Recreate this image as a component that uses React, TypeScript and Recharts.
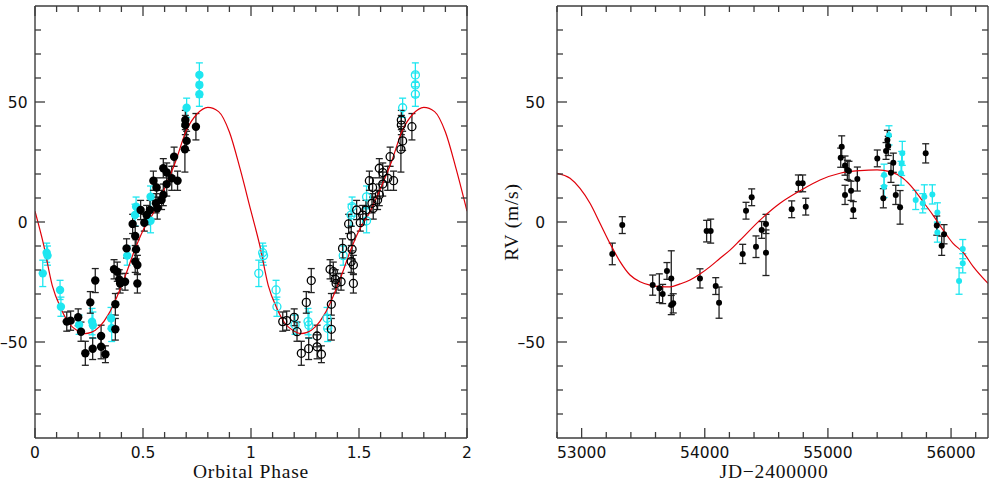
import React from 'react';
import { ComposedChart, Scatter, Line, XAxis, YAxis, ErrorBar } from 'recharts';

// [x, rv, error] triples
type Obs = [number, number, number];

// ---- phase-folded panel ----
const phaseTicks = [0, 0.1, 0.2, 0.3, 0.4, 0.5, 0.6, 0.7, 0.8, 0.9, 1, 1.1, 1.2, 1.3, 1.4, 1.5, 1.6, 1.7, 1.8, 1.9, 2];
const phaseMajor = [0, 0.5, 1, 1.5, 2];
const phaseLabels = ['0', '0.5', '1', '1.5', '2'];

const rvTicks = [-80, -70, -60, -50, -40, -30, -20, -10, 0, 10, 20, 30, 40, 50, 60, 70, 80];
const rvMajor = [-50, 0, 50];
const rvLabels = ['\u201350', '0', '50'];

const phaseBlack: Obs[] = [
  [0.147, -41.5, 4], [0.165, -41.1, 4], [0.2, -39.7, 3.5], [0.213, -45.7, 4],
  [0.233, -54.7, 5], [0.256, -33.5, 4.5], [0.267, -52.8, 4.5], [0.279, -24.4, 5],
  [0.306, -47.5, 4.5], [0.306, -52.0, 5], [0.326, -55.1, 3.5], [0.366, -19.7, 4],
  [0.372, -34.3, 4.5], [0.372, -44.7, 4.5], [0.381, -20.7, 4], [0.39, -23.9, 4],
  [0.394, -25.6, 4], [0.417, -24.9, 3.5], [0.424, -11.0, 4], [0.452, -0.8, 4],
  [0.464, -5.8, 4], [0.468, -11.4, 4], [0.464, -16.5, 4.5], [0.474, -17.9, 4],
  [0.474, -25.6, 4], [0.489, 5.0, 4], [0.506, -0.3, 3.5], [0.517, 2.9, 4],
  [0.532, 5.0, 4], [0.548, 17.2, 4], [0.56, 7.8, 4], [0.563, 14.4, 4],
  [0.566, 5.7, 4.5], [0.586, 9.2, 4], [0.594, 11.3, 4.5], [0.594, 22.4, 4],
  [0.61, 20.6, 4], [0.61, 15.8, 5], [0.633, 18.2, 5], [0.644, 27.2, 4],
  [0.66, 17.2, 4], [0.694, 30.3, 9.5], [0.702, 33.8, 4], [0.696, 40.4, 4],
  [0.696, 42.5, 4], [0.745, 39.7, 5.5],
];

const phaseCyan: Obs[] = [
  [0.036, -21.4, 5.5], [0.054, -12.8, 4], [0.058, -14.0, 4], [0.116, -28.3, 4],
  [0.12, -35.3, 4], [0.204, -42.8, 4], [0.264, -41.5, 5.5], [0.268, -43.0, 5.5],
  [0.352, -40.1, 4.5], [0.355, -44.3, 5.5], [0.427, -14.0, 4], [0.463, 2.9, 4.5],
  [0.468, 6.4, 4], [0.535, 0.5, 5], [0.535, 10.5, 4.5], [0.702, 47.6, 4],
  [0.761, 53.2, 5], [0.761, 57.1, 5], [0.761, 61.3, 5],
];

// Keplerian fit sampled over one cycle
const fitPhase = [0, 0.04, 0.08, 0.12, 0.16, 0.2, 0.23, 0.26, 0.3, 0.34, 0.38, 0.42, 0.46, 0.5, 0.55, 0.6, 0.65, 0.7, 0.75, 0.8, 0.85, 0.9, 0.95, 1];
const fitPhaseRv = [4.5, -9.5, -26.5, -36, -42.5, -45.5, -46.5, -46, -43.5, -38.5, -31, -22, -12, -3.5, 4.1, 14, 25, 38, 45, 47.8, 46, 37.5, 22, 4.5];

// ---- time series panel ----
const jdTicks = [52800, 53000, 53200, 53400, 53600, 53800, 54000, 54200, 54400, 54600, 54800, 55000, 55200, 55400, 55600, 55800, 56000, 56200];
const jdMajor = [53000, 54000, 55000, 56000];
const jdLabels = ['53000', '54000', '55000', '56000'];

const timeBlack: Obs[] = [
  [53249, -13.3, 4.5], [53330, -1.3, 3.5], [53577, -26.3, 4.2], [53631, -27.6, 6],
  [53658, -30.0, 4], [53693, -20.4, 3.5], [53728, -23.5, 11.5], [53728, -34.6, 4],
  [53744, -33.9, 4], [53961, -23.5, 4], [54015, -3.8, 4.5], [54048, -3.8, 5],
  [54089, -26.7, 3.5], [54116, -33.6, 6.5], [54308, -13.3, 4], [54335, 4.7, 3.5],
  [54381, 10.3, 3.5], [54416, -10.3, 4.5], [54462, -3.3, 3.5], [54497, -0.8, 4],
  [54497, -12.8, 9.5], [54706, 5.3, 3.5], [54760, 16.1, 3.5], [54795, 16.1, 3.5],
  [54820, 6.4, 3.5], [55104, 26.8, 4], [55112, 31.4, 4.5], [55139, 23.5, 4],
  [55139, 11.3, 4], [55158, 21.7, 4], [55171, 21.3, 4], [55188, 13.0, 4],
  [55206, 5.0, 3.5], [55239, 17.9, 5], [55401, 26.5, 3.5], [55450, 9.9, 4],
  [55472, 29.6, 3.5], [55483, 34.2, 4], [55490, 31.7, 4], [55512, 20.5, 4],
  [55531, 24.7, 4], [55551, 11.3, 4], [55586, 6.1, 7], [55794, 28.6, 4],
  [55884, -1.5, 4], [55924, -9.9, 4], [55943, -5.1, 4],
];

const timeCyan: Obs[] = [
  [55456, 14.7, 4.5], [55456, 19.6, 4.5], [55496, 36.1, 4], [55594, 20.3, 5],
  [55599, 24.4, 5], [55604, 28.6, 5], [55713, 9.2, 4], [55770, 7.8, 4],
  [55783, 10.5, 5], [55848, 11.5, 4], [55889, 4.0, 4], [55889, -4.4, 4],
  [56065, -24.6, 5.5], [56095, -17.2, 4], [56095, -11.3, 4],
];

const fitJd = [52800, 52906, 52987, 53068, 53149, 53230, 53312, 53393, 53474, 53555, 53636, 53718, 53799, 53880, 53961, 54043, 54124, 54205, 54286, 54449, 54611, 54773, 54936, 55098, 55261, 55399, 55504, 55610, 55691, 55772, 55853, 55935, 56016, 56100, 56180, 56300];
const fitJdRv = [20.3, 18.2, 14, 7.8, -0.5, -8.9, -16.5, -22.1, -24.9, -26.3, -26.9, -27, -25.8, -24.2, -21.7, -18.6, -15.1, -11.7, -7.6, 0.8, 7.8, 13, 17.5, 20.3, 21.4, 21.7, 21, 18.2, 14, 8.5, 2.9, -3.3, -8.9, -12.8, -18.6, -25.6];

const FRAME = '#3c3c3c';
const BLACK = '#000';
const CYAN = '#1ee6f0';
const FIT = '#e0000a';
const MAJOR_LEN = 10;
const MINOR_LEN = 6;

const tickFont = {
  fontFamily: '"DejaVu Sans", sans-serif',
  fontSize: 15.5,
  fill: '#111',
};

const toRows = (obs: Obs[], shift = 0) => obs.map(([x, y, err]) => ({ x: x + shift, y, err }));

type Side = 'top' | 'bottom' | 'left' | 'right';

// inward-pointing ticks on every side, labels only on bottom/left majors
function makeTick(side: Side, majors: number[], labels?: string[], gap = 10) {
  return function Tick(props: any) {
    const { x, y, payload } = props;
    const idx = majors.indexOf(payload.value);
    const len = idx >= 0 ? MAJOR_LEN : MINOR_LEN;
    let x2 = x;
    let y2 = y;
    if (side === 'bottom') y2 = y - len;
    if (side === 'top') y2 = y + len;
    if (side === 'left') x2 = x + len;
    if (side === 'right') x2 = x - len;
    const label = labels && idx >= 0 ? labels[idx] : null;
    return (
      <g>
        <line x1={x} y1={y} x2={x2} y2={y2} stroke={FRAME} strokeWidth={1.3} />
        {label && side === 'bottom' && (
          <text x={x} y={y + 20} textAnchor="middle" {...tickFont}>{label}</text>
        )}
        {label && side === 'left' && (
          <text x={x - gap} y={y + 6} textAnchor="end" {...tickFont}>{label}</text>
        )}
      </g>
    );
  };
}

const filled = (color: string, r: number) => (p: any) => <circle cx={p.cx} cy={p.cy} r={r} fill={color} />;
const hollow = (color: string, r: number) => (p: any) => (
  <circle cx={p.cx} cy={p.cy} r={r} fill="none" stroke={color} strokeWidth={1.3} />
);

const axisLine = { stroke: FRAME, strokeWidth: 1.4 };

// the four framing axes; each is 1px thick so the plot box lands where the margins say
function frameAxes(domain: [number, number], xTicks: number[], xMajor: number[], xLabels: string[], yGap: number) {
  const common = { type: 'number' as const, allowDataOverflow: true, interval: 0, tickSize: 0, tickMargin: 0, tickLine: false, axisLine };
  return [
    <XAxis key="xb" xAxisId="b" dataKey="x" domain={domain} ticks={xTicks} height={1} {...common}
      tick={makeTick('bottom', xMajor, xLabels)} />,
    <XAxis key="xt" xAxisId="t" orientation="top" dataKey="x" domain={domain} ticks={xTicks} height={1} {...common}
      tick={makeTick('top', xMajor)} />,
    <YAxis key="yl" yAxisId="l" dataKey="y" domain={[-90, 90]} ticks={rvTicks} width={1} {...common}
      tick={makeTick('left', rvMajor, rvLabels, yGap)} />,
    <YAxis key="yr" yAxisId="r" orientation="right" dataKey="y" domain={[-90, 90]} ticks={rvTicks} width={1} {...common}
      tick={makeTick('right', rvMajor)} />,
  ];
}

const PhasePanel = () => (
  <ComposedChart width={480} height={482} margin={{ top: 5, right: 12, bottom: 43, left: 34 }}>
    {frameAxes([0, 2], phaseTicks, phaseMajor, phaseLabels, 7.5)}

    {/* second cycle, open symbols */}
    <Scatter xAxisId="b" yAxisId="l" data={toRows(phaseCyan, 1)} shape={hollow(CYAN, 4)} isAnimationActive={false}>
      <ErrorBar dataKey="err" direction="y" width={3.5} stroke={CYAN} strokeWidth={1.3} isAnimationActive={false} />
    </Scatter>
    <Scatter xAxisId="b" yAxisId="l" data={toRows(phaseBlack, 1)} shape={hollow(BLACK, 4)} isAnimationActive={false}>
      <ErrorBar dataKey="err" direction="y" width={3.5} stroke="#222" strokeWidth={1.3} isAnimationActive={false} />
    </Scatter>

    {/* first cycle, filled symbols */}
    <Scatter xAxisId="b" yAxisId="l" data={toRows(phaseCyan)} shape={filled(CYAN, 4.2)} isAnimationActive={false}>
      <ErrorBar dataKey="err" direction="y" width={3.5} stroke={CYAN} strokeWidth={1.3} isAnimationActive={false} />
    </Scatter>
    <Scatter xAxisId="b" yAxisId="l" data={toRows(phaseBlack)} shape={filled(BLACK, 4.2)} isAnimationActive={false}>
      <ErrorBar dataKey="err" direction="y" width={3.5} stroke="#222" strokeWidth={1.3} isAnimationActive={false} />
    </Scatter>

    <Line xAxisId="b" yAxisId="l" type="monotone" dataKey="y" stroke={FIT} strokeWidth={1.2} dot={false}
      activeDot={false} isAnimationActive={false}
      data={[
        ...fitPhase.map((x, i) => ({ x, y: fitPhaseRv[i] })),
        ...fitPhase.slice(1).map((x, i) => ({ x: x + 1, y: fitPhaseRv[i + 1] })),
      ]} />
  </ComposedChart>
);

const TimePanel = () => (
  <ComposedChart width={492} height={482} margin={{ top: 5, right: 3, bottom: 43, left: 56 }}>
    {frameAxes([52800, 56300], jdTicks, jdMajor, jdLabels, 12)}

    <Scatter xAxisId="b" yAxisId="l" data={toRows(timeCyan)} shape={filled(CYAN, 3)} isAnimationActive={false}>
      <ErrorBar dataKey="err" direction="y" width={3.5} stroke={CYAN} strokeWidth={1.3} isAnimationActive={false} />
    </Scatter>
    <Scatter xAxisId="b" yAxisId="l" data={toRows(timeBlack)} shape={filled(BLACK, 3)} isAnimationActive={false}>
      <ErrorBar dataKey="err" direction="y" width={3.5} stroke="#222" strokeWidth={1.3} isAnimationActive={false} />
    </Scatter>

    <Line xAxisId="b" yAxisId="l" type="monotone" dataKey="y" stroke={FIT} strokeWidth={1.2} dot={false}
      activeDot={false} isAnimationActive={false}
      data={fitJd.map((x, i) => ({ x, y: fitJdRv[i] }))} />
  </ComposedChart>
);

const titleFont = {
  fontFamily: '"Liberation Serif", serif',
  fontSize: 19.5,
  letterSpacing: 0.8,
  fill: '#111',
};

export default function App() {
  return (
    <div style={{ position: 'absolute', left: 0, top: 0, width: 992, height: 482, background: '#fff' }}>
      <div style={{ position: 'absolute', left: 0, top: 0 }}>
        <PhasePanel />
      </div>
      <div style={{ position: 'absolute', left: 500, top: 0 }}>
        <TimePanel />
      </div>
      <svg width={992} height={482} style={{ position: 'absolute', left: 0, top: 0, pointerEvents: 'none' }}>
        <text x={251} y={477.5} textAnchor="middle" {...titleFont}>Orbital Phase</text>
        <text x={774} y={477.5} textAnchor="middle" {...titleFont}>JD{'\u2212'}2400000</text>
        <text transform="translate(518,222) rotate(-90)" textAnchor="middle" {...titleFont}>RV (m/s)</text>
      </svg>
    </div>
  );
}
